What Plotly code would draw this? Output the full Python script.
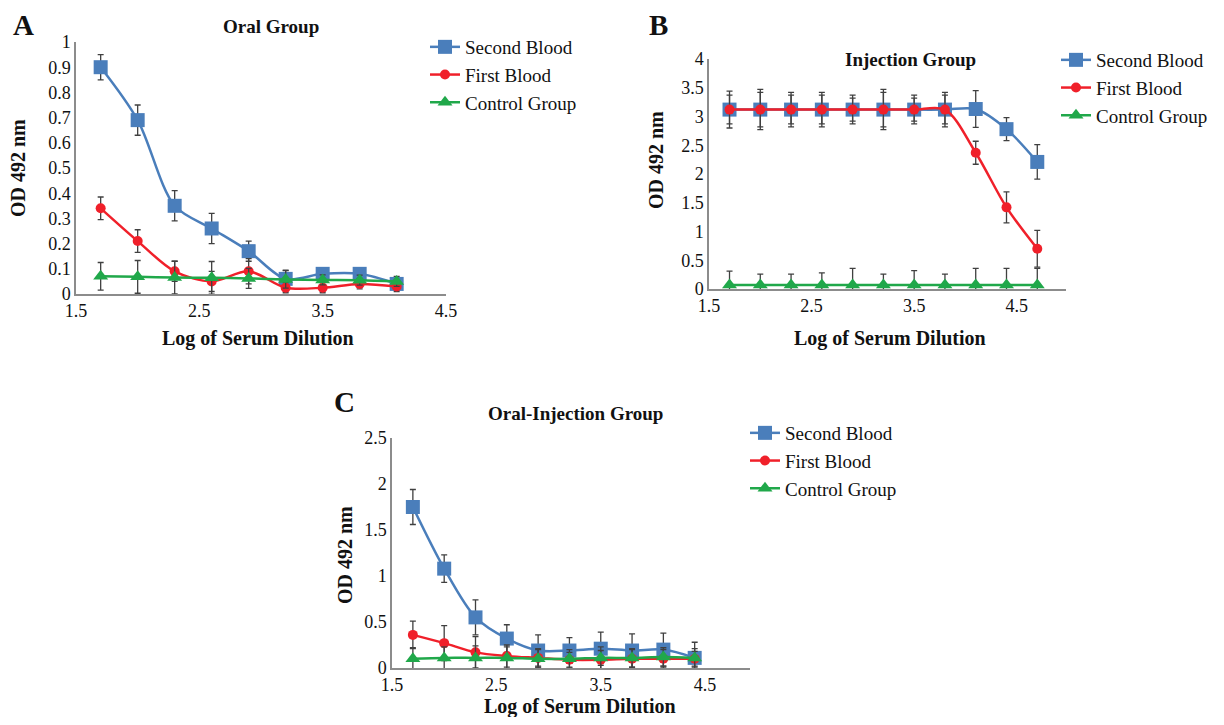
import plotly.graph_objects as go

# Page has an 8px body margin, so the figure is 16px smaller than the window
OFF = 8
W, H = 1224 - 2 * OFF, 725 - 2 * OFF

# ---------------- data ----------------
log_dilution_a = [1.7, 2.0, 2.3, 2.6, 2.9, 3.2, 3.5, 3.8, 4.1]
log_dilution_b = [1.7, 2.0, 2.3, 2.6, 2.9, 3.2, 3.5, 3.8, 4.1, 4.4, 4.7]
log_dilution_c = [1.7, 2.0, 2.3, 2.6, 2.9, 3.2, 3.5, 3.8, 4.1, 4.4]

# Panel A - Oral Group
a_second = [0.90, 0.69, 0.35, 0.26, 0.17, 0.06, 0.08, 0.08, 0.04]
a_second_err = [0.05, 0.06, 0.06, 0.06, 0.04, 0.035, 0.02, 0.02, 0.02]
a_first = [0.34, 0.21, 0.09, 0.05, 0.09, 0.025, 0.025, 0.04, 0.03]
a_first_err = [0.045, 0.045, 0.04, 0.04, 0.05, 0.02, 0.02, 0.02, 0.02]
a_control = [0.07, 0.068, 0.065, 0.064, 0.062, 0.058, 0.056, 0.055, 0.05]
a_control_err = [0.055, 0.065, 0.065, 0.065, 0.04, 0.035, 0.02, 0.02, 0.02]

# Panel B - Injection Group
b_second = [3.12, 3.12, 3.12, 3.12, 3.12, 3.12, 3.12, 3.12, 3.13, 2.78, 2.21]
b_second_err = [0.32, 0.35, 0.30, 0.30, 0.25, 0.35, 0.25, 0.30, 0.32, 0.20, 0.30]
b_first = [3.12, 3.12, 3.12, 3.12, 3.12, 3.12, 3.12, 3.12, 2.37, 1.42, 0.70]
b_first_err = [0.25, 0.30, 0.25, 0.25, 0.20, 0.30, 0.20, 0.25, 0.20, 0.27, 0.32]
b_control = [0.07, 0.07, 0.07, 0.07, 0.07, 0.07, 0.07, 0.07, 0.07, 0.07, 0.07]
b_control_err = [0.24, 0.19, 0.19, 0.21, 0.29, 0.19, 0.25, 0.19, 0.29, 0.29, 0.29]

# Panel C - Oral-Injection Group
c_second = [1.75, 1.08, 0.55, 0.32, 0.19, 0.19, 0.21, 0.19, 0.20, 0.11]
c_second_err = [0.19, 0.15, 0.19, 0.15, 0.17, 0.14, 0.18, 0.18, 0.18, 0.17]
c_first = [0.36, 0.27, 0.17, 0.13, 0.11, 0.09, 0.09, 0.10, 0.10, 0.10]
c_first_err = [0.15, 0.19, 0.17, 0.12, 0.10, 0.08, 0.10, 0.10, 0.10, 0.08]
c_control = [0.10, 0.11, 0.11, 0.11, 0.10, 0.10, 0.11, 0.11, 0.12, 0.11]
c_control_err = [0.12, 0.12, 0.13, 0.12, 0.10, 0.10, 0.12, 0.10, 0.10, 0.10]

series_names = ["Second Blood", "First Blood", "Control Group"]
panel_titles = ["Oral Group", "Injection Group", "Oral-Injection Group"]
panel_letters = ["A", "B", "C"]
x_title = "Log of Serum Dilution"
y_title = "OD 492 nm"

# ---------------- style ----------------
FONT = "Liberation Serif"
BLUE = "#4A7EBB"
RED = "#F0202A"
GREEN = "#20A84A"
ERR = "#404040"
AXIS = "#8C8C8C"

def pxx(x):
    return (x - OFF) / W

def pxy(y):
    return 1 - (y - OFF) / H

fig = go.Figure()

panels = [
    dict(x=log_dilution_a, data=[(a_second, a_second_err), (a_first, a_first_err), (a_control, a_control_err)],
         xa="x", ya="y", legend="legend"),
    dict(x=log_dilution_b, data=[(b_second, b_second_err), (b_first, b_first_err), (b_control, b_control_err)],
         xa="x2", ya="y2", legend="legend2"),
    dict(x=log_dilution_c, data=[(c_second, c_second_err), (c_first, c_first_err), (c_control, c_control_err)],
         xa="x3", ya="y3", legend="legend3"),
]

styles = [
    dict(color=BLUE, symbol="square", size=14, width=2.5),
    dict(color=RED, symbol="circle", size=10, width=2.5),
    dict(color=GREEN, symbol="triangle-up", size=13, width=2.5),
]

for p in panels:
    for name, (vals, errs), st in zip(series_names, p["data"], styles):
        fig.add_trace(go.Scatter(
            x=p["x"], y=vals, name=name, mode="lines+markers",
            xaxis=p["xa"], yaxis=p["ya"], legend=p["legend"],
            line=dict(color=st["color"], width=st["width"], shape="spline", smoothing=0.9),
            marker=dict(color=st["color"], symbol=st["symbol"], size=st["size"]),
            error_y=dict(type="data", array=errs, visible=True, color=ERR, thickness=1.3, width=3),
        ))

axis_common = dict(showgrid=False, zeroline=False, showline=True, linecolor=AXIS, linewidth=1.5,
                   ticks="", automargin=False, tickfont=dict(family=FONT, size=18, color="#111"))

layout = dict(
    width=W, height=H, margin=dict(l=0, r=0, t=0, b=0, autoexpand=False),
    paper_bgcolor="white", plot_bgcolor="white",
    font=dict(family=FONT, color="#111"),
    xaxis=dict(domain=[pxx(76), pxx(446)], range=[1.5, 4.5], tick0=1.5, dtick=1, anchor="y", **axis_common),
    yaxis=dict(domain=[pxy(294), pxy(42)], range=[0, 1], dtick=0.1, anchor="x", **axis_common),
    xaxis2=dict(domain=[pxx(709), pxx(1066)], range=[1.5, 4.98], tick0=1.5, dtick=1, anchor="y2", **axis_common),
    yaxis2=dict(domain=[pxy(289), pxy(59)], range=[0, 4], dtick=0.5, anchor="x2", **axis_common),
    xaxis3=dict(domain=[pxx(392), pxx(750)], range=[1.5, 4.93], tick0=1.5, dtick=1, anchor="y3", **axis_common),
    yaxis3=dict(domain=[pxy(668), pxy(438)], range=[0, 2.5], dtick=0.5, anchor="x3", **axis_common),
    showlegend=True,
)

leg_common = dict(xanchor="left", yanchor="top", bgcolor="rgba(0,0,0,0)", borderwidth=0,
                  font=dict(family=FONT, size=19, color="#111"), tracegroupgap=0)
layout["legend"] = dict(x=pxx(425), y=pxy(28), **leg_common)
layout["legend2"] = dict(x=pxx(1056), y=pxy(41), **leg_common)
layout["legend3"] = dict(x=pxx(745), y=pxy(414), **leg_common)

fig.update_layout(**layout)

ann = []
# panel letters
for letter, (x, y) in zip(panel_letters, [(11, 25), (647, 25), (332, 402)]):
    ann.append(dict(text=f"<b>{letter}</b>", x=pxx(x), y=pxy(y), xref="paper", yref="paper",
                    xanchor="left", yanchor="middle", showarrow=False,
                    font=dict(family=FONT, size=29, color="#111")))
# titles
for t, (x, y) in zip(panel_titles, [(271, 27), (910, 59), (575, 413)]):
    ann.append(dict(text=f"<b>{t}</b>", x=pxx(x), y=pxy(y), xref="paper", yref="paper",
                    xanchor="center", yanchor="middle", showarrow=False,
                    font=dict(family=FONT, size=19, color="#111")))
# x titles
for (x, y) in [(258, 339), (890, 339), (580, 706)]:
    ann.append(dict(text=f"<b>{x_title}</b>", x=pxx(x), y=pxy(y), xref="paper", yref="paper",
                    xanchor="center", yanchor="middle", showarrow=False,
                    font=dict(family=FONT, size=20, color="#111")))
# y titles
for (x, y) in [(18, 168), (656, 160), (345, 555)]:
    ann.append(dict(text=f"<b>{y_title}</b>", x=pxx(x), y=pxy(y), xref="paper", yref="paper",
                    xanchor="center", yanchor="middle", showarrow=False, textangle=-90,
                    font=dict(family=FONT, size=20, color="#111")))
fig.update_layout(annotations=ann)

fig.write_html("out.html")
